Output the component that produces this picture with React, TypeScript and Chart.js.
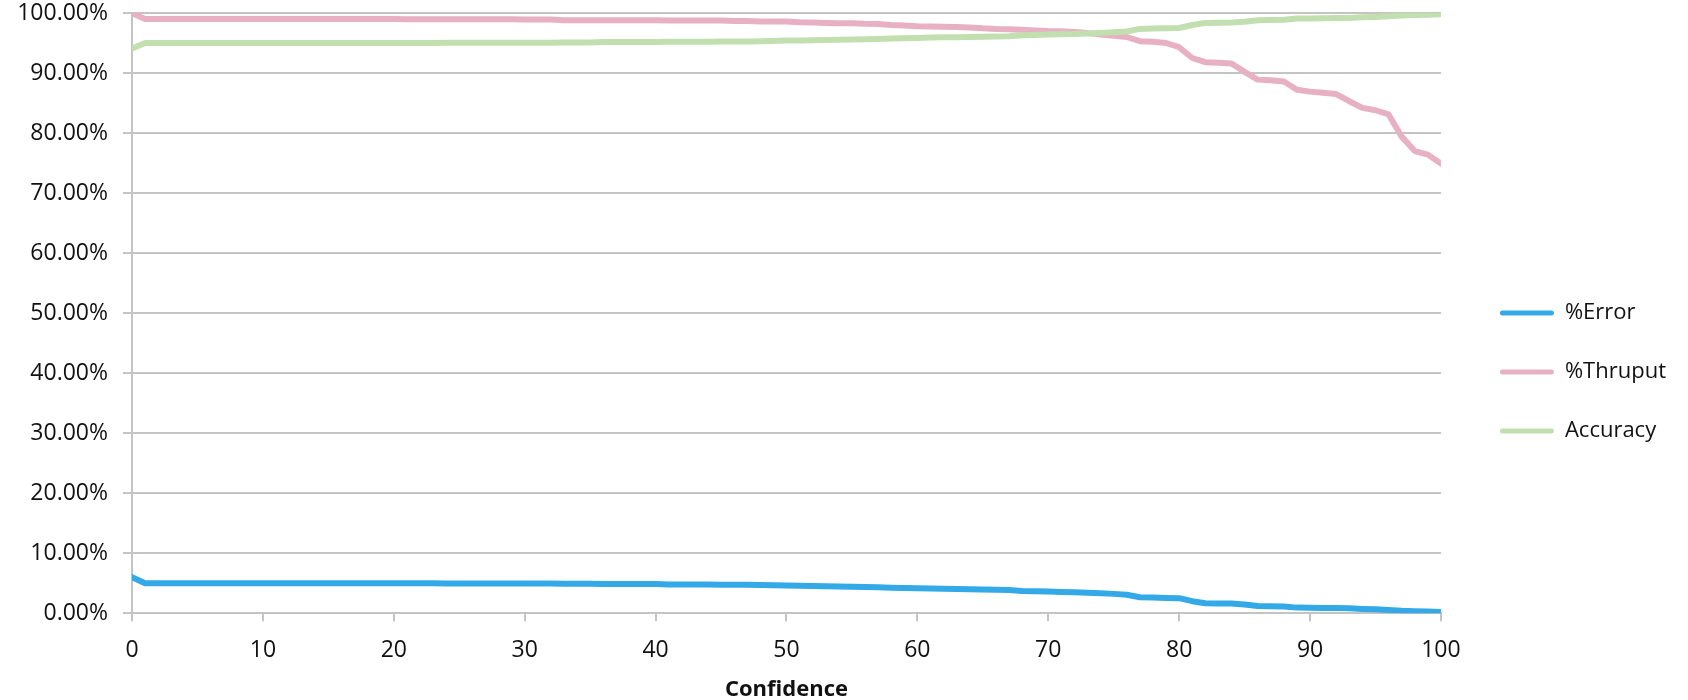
import React, { useEffect, useRef } from "react";
import { Chart, registerables } from "chart.js";

Chart.register(...registerables);

const confidence = [
  0, 1, 2, 3, 4, 5, 6, 7, 8, 9, 10, 11, 12, 13, 14, 15, 16, 17, 18, 19, 20,
  21, 22, 23, 24, 25, 26, 27, 28, 29, 30, 31, 32, 33, 34, 35, 36, 37, 38, 39, 40,
  41, 42, 43, 44, 45, 46, 47, 48, 49, 50, 51, 52, 53, 54, 55, 56, 57, 58, 59, 60,
  61, 62, 63, 64, 65, 66, 67, 68, 69, 70, 71, 72, 73, 74, 75, 76, 77, 78, 79, 80,
  81, 82, 83, 84, 85, 86, 87, 88, 89, 90, 91, 92, 93, 94, 95, 96, 97, 98, 99, 100,
];

const errorPct = [
  6.0, 5.0, 5.0, 5.0, 5.0, 5.0, 5.0, 5.0, 5.0, 5.0, 5.0,
  5.0, 5.0, 5.0, 5.0, 5.0, 5.0, 5.0, 5.0, 5.0, 5.0,
  5.0, 5.0, 4.98, 4.95, 4.95, 4.95, 4.95, 4.95, 4.95, 4.95,
  4.95, 4.95, 4.9, 4.9, 4.9, 4.85, 4.85, 4.85, 4.85, 4.85,
  4.8, 4.8, 4.8, 4.8, 4.75, 4.75, 4.75, 4.7, 4.65, 4.6,
  4.58, 4.55, 4.5, 4.45, 4.42, 4.38, 4.32, 4.25, 4.2, 4.15,
  4.1, 4.06, 4.02, 3.98, 3.94, 3.9, 3.88, 3.7, 3.65, 3.6,
  3.55, 3.5, 3.42, 3.33, 3.22, 3.08, 2.65, 2.6, 2.55, 2.5,
  2.0, 1.65, 1.63, 1.6, 1.45, 1.2, 1.17, 1.13, 0.93, 0.9,
  0.88, 0.85, 0.82, 0.72, 0.65, 0.55, 0.4, 0.33, 0.28, 0.22,
];

const thruputPct = [
  100.0, 99.0, 99.0, 99.0, 99.0, 99.0, 99.0, 99.0, 99.0, 99.0, 99.0,
  99.0, 99.0, 99.0, 99.0, 99.0, 99.0, 99.0, 99.0, 99.0, 99.0,
  98.95, 98.95, 98.95, 98.95, 98.95, 98.95, 98.95, 98.95, 98.95, 98.9,
  98.9, 98.9, 98.8, 98.8, 98.8, 98.8, 98.8, 98.8, 98.8, 98.8,
  98.75, 98.75, 98.75, 98.75, 98.75, 98.65, 98.65, 98.6, 98.6, 98.6,
  98.45, 98.4, 98.35, 98.3, 98.3, 98.2, 98.15, 98.0, 97.9, 97.8,
  97.75, 97.7, 97.65, 97.6, 97.45, 97.35, 97.3, 97.2, 97.1, 97.0,
  96.95, 96.85, 96.65, 96.4, 96.2, 96.0, 95.3, 95.2, 95.0, 94.3,
  92.5, 91.8, 91.7, 91.6, 90.2, 88.9, 88.8, 88.6, 87.2, 86.9,
  86.7, 86.5, 85.3, 84.2, 83.8, 83.1, 79.4, 77.0, 76.4, 74.9,
];

const accuracyPct = [
  94.1, 95.0, 95.0, 95.0, 95.0, 95.0, 95.0, 95.0, 95.0, 95.0, 95.0,
  95.0, 95.0, 95.0, 95.0, 95.0, 95.0, 95.0, 95.0, 95.0, 95.0,
  95.0, 95.0, 95.02, 95.05, 95.05, 95.05, 95.05, 95.05, 95.05, 95.05,
  95.05, 95.05, 95.1, 95.1, 95.1, 95.15, 95.15, 95.15, 95.15, 95.15,
  95.2, 95.2, 95.2, 95.2, 95.25, 95.25, 95.25, 95.3, 95.35, 95.4,
  95.42, 95.45, 95.5, 95.55, 95.58, 95.62, 95.68, 95.75, 95.8, 95.85,
  95.9, 95.94, 95.98, 96.02, 96.06, 96.1, 96.12, 96.3, 96.35, 96.4,
  96.45, 96.5, 96.58, 96.67, 96.78, 96.92, 97.35, 97.4, 97.45, 97.5,
  98.0, 98.35, 98.37, 98.4, 98.55, 98.8, 98.83, 98.87, 99.07, 99.1,
  99.12, 99.15, 99.18, 99.28, 99.35, 99.45, 99.6, 99.67, 99.72, 99.78,
];

const seriesNames = ["%Error", "%Thruput", "Accuracy"];
const seriesColors = ["#33a9e8", "#e8b1c3", "#c2dfb0"];
const yTicks = [0, 10, 20, 30, 40, 50, 60, 70, 80, 90, 100];

const FONT = "'Open Sans', 'DejaVu Sans', sans-serif";
const LEGEND_SHIFT = 22;

const shiftLegendPlugin = {
  id: "shiftLegend",
  afterLayout(chart: any) {
    const lg = chart.legend;
    if (lg) {
      lg.left += LEGEND_SHIFT;
      lg.right += LEGEND_SHIFT;
    }
  },
};

export default function App() {
  const ref = useRef<HTMLCanvasElement | null>(null);

  useEffect(() => {
    if (!ref.current) return;
    const seriesData = [errorPct, thruputPct, accuracyPct];
    const drawOrder = [2, 1, 0];
    const chart = new Chart(ref.current, {
      type: "line",
      data: {
        labels: confidence,
        datasets: seriesNames.map((name, i) => ({
          label: name,
          data: confidence.map((c, j) => ({ x: c, y: seriesData[i][j] })),
          borderColor: seriesColors[i],
          backgroundColor: seriesColors[i],
          borderWidth: 6,
          pointRadius: 0,
          tension: 0,
          borderJoinStyle: "round" as const,
          borderCapStyle: "round" as const,
          order: drawOrder[i],
        })),
      },
      plugins: [shiftLegendPlugin],
      options: {
        animation: false,
        responsive: true,
        maintainAspectRatio: false,
        layout: {
          padding: { left: 0, right: 12 + LEGEND_SHIFT, top: 13, bottom: 0 },
        },
        scales: {
          x: {
            type: "linear",
            min: 0,
            max: 100,
            ticks: {
              stepSize: 10,
              color: "#111",
              font: { family: FONT, size: 23, lineHeight: 1.0 },
              padding: 18,
              maxRotation: 0,
            },
            grid: {
              drawOnChartArea: false,
              drawTicks: true,
              tickLength: 8,
              color: "#c4c4c4",
              lineWidth: 2,
            },
            border: { display: true, color: "#c4c4c4", width: 2 },
            title: {
              display: true,
              text: "Confidence",
              color: "#111",
              font: { family: FONT, size: 22, weight: "bold", lineHeight: 0.9 },
              padding: { top: 0, bottom: 0 },
            },
          },
          y: {
            min: 0,
            max: 100,
            afterBuildTicks: (axis: any) => {
              axis.ticks = yTicks.map((v) => ({ value: v }));
            },
            afterFit: (scale: any) => {
              scale.width = 132;
              scale.paddingTop = 0;
            },
            ticks: {
              color: "#111",
              font: { family: FONT, size: 23 },
              padding: 15,
              callback: (v: any) => Number(v).toFixed(2) + "%",
            },
            grid: {
              color: "#c4c4c4",
              lineWidth: 2,
              tickLength: 9,
            },
            border: { display: true, color: "#c4c4c4", width: 2 },
          },
        },
        plugins: {
          tooltip: { enabled: false },
          legend: {
            position: "right",
            align: "center",
            title: {
              display: true,
              text: " ",
              font: { size: 10, lineHeight: 1 },
              padding: 10.5,
            },
            labels: {
              boxWidth: 54,
              boxHeight: 5,
              padding: 37,
              color: "#111",
              font: { family: FONT, size: 22 },
              useBorderRadius: true,
              borderRadius: 2.5,
              sort: (a: any, b: any) => a.datasetIndex - b.datasetIndex,
              generateLabels: (ch: any) =>
                Chart.defaults.plugins.legend.labels
                  .generateLabels(ch)
                  .map((it: any) => ({
                    ...it,
                    fillStyle: seriesColors[it.datasetIndex],
                    strokeStyle: seriesColors[it.datasetIndex],
                    lineWidth: 0,
                    borderRadius: 2.5,
                  })),
            },
          },
        },
      },
    });
    return () => chart.destroy();
  }, []);

  return (
    <div
      style={{
        position: "absolute",
        left: 0,
        top: 0,
        width: 1688,
        height: 700,
        background: "#fff",
      }}
    >
      <canvas ref={ref} />
    </div>
  );
}
